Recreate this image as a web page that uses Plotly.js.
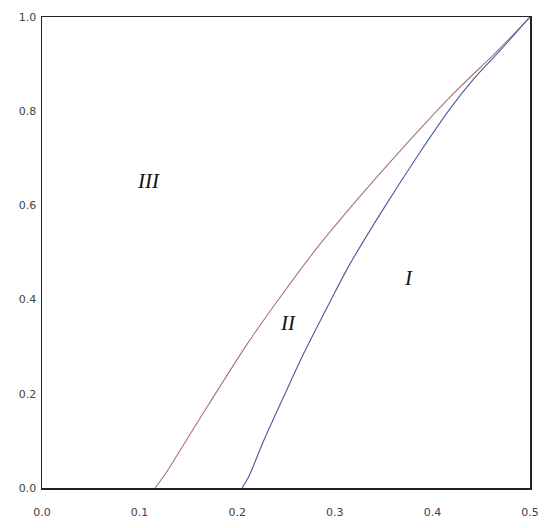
<!DOCTYPE html>
<html>
<head>
<meta charset="utf-8">
<script src="https://cdn.plot.ly/plotly-3.0.1.min.js"></script>
<style>
  body { margin: 0; background: #fff; }
  #grafico { width: 550px; height: 528px; }
</style>
</head>
<body>
<div id="grafico"></div>
<script>
// upper boundary (between II and III)
const xUpper = [0.116, 0.128, 0.140, 0.170, 0.210, 0.244, 0.280, 0.322, 0.367, 0.418, 0.469, 0.5];
const yUpper = [0.0, 0.035, 0.075, 0.175, 0.305, 0.405, 0.505, 0.610, 0.716, 0.830, 0.933, 1.0];

// lower boundary (between I and II)
const xLower = [0.205, 0.212, 0.226, 0.245, 0.268, 0.295, 0.314, 0.349, 0.388, 0.418, 0.443, 0.469, 0.5];
const yLower = [0.0, 0.025, 0.095, 0.182, 0.285, 0.395, 0.470, 0.590, 0.715, 0.805, 0.870, 0.928, 1.0];

// region labels
const regionText = ['III', 'II', 'I'];
const regionX = [0.109, 0.2525, 0.375];
const regionY = [0.652, 0.351, 0.445];

const data = [
    {
        x: xUpper,
        y: yUpper,
        type: 'scatter',
        mode: 'lines',
        line: { color: '#a8707e', width: 1.1, shape: 'spline', smoothing: 0.8 },
        hoverinfo: 'skip'
    },
    {
        x: xLower,
        y: yLower,
        type: 'scatter',
        mode: 'lines',
        line: { color: '#55559a', width: 1.1, shape: 'spline', smoothing: 0.8 },
        hoverinfo: 'skip'
    }
];

const annotations = regionText.map((t, i) => ({
    x: regionX[i],
    y: regionY[i],
    text: '<i>' + t + '</i>',
    showarrow: false,
    font: { family: 'Liberation Serif', size: 21, color: '#111' }
}));

const axisStyle = {
    showgrid: false,
    zeroline: false,
    showline: true,
    mirror: true,
    linecolor: '#222',
    linewidth: 1.5,
    ticks: '',
    tickfont: { family: 'DejaVu Sans', size: 11, color: '#444' }
};

const layout = {
    width: 550,
    height: 528,
    margin: { l: 41.5, r: 19.5, t: 17, b: 40 },
    showlegend: false,
    plot_bgcolor: '#fff',
    paper_bgcolor: '#fff',
    xaxis: Object.assign({}, axisStyle, {
        range: [0, 0.5],
        tickvals: [0, 0.1, 0.2, 0.3, 0.4, 0.5],
        ticktext: ['0.0', '0.1', '0.2', '0.3', '0.4', '0.5'],
        ticklabelstandoff: 13
    }),
    yaxis: Object.assign({}, axisStyle, {
        range: [0, 1],
        tickvals: [0, 0.2, 0.4, 0.6, 0.8, 1.0],
        ticktext: ['0.0', '0.2', '0.4', '0.6', '0.8', '1.0'],
        ticklabelstandoff: 2
    }),
    annotations: annotations
};

Plotly.newPlot('grafico', data, layout, { displayModeBar: false, staticPlot: true });
</script>
</body>
</html>
